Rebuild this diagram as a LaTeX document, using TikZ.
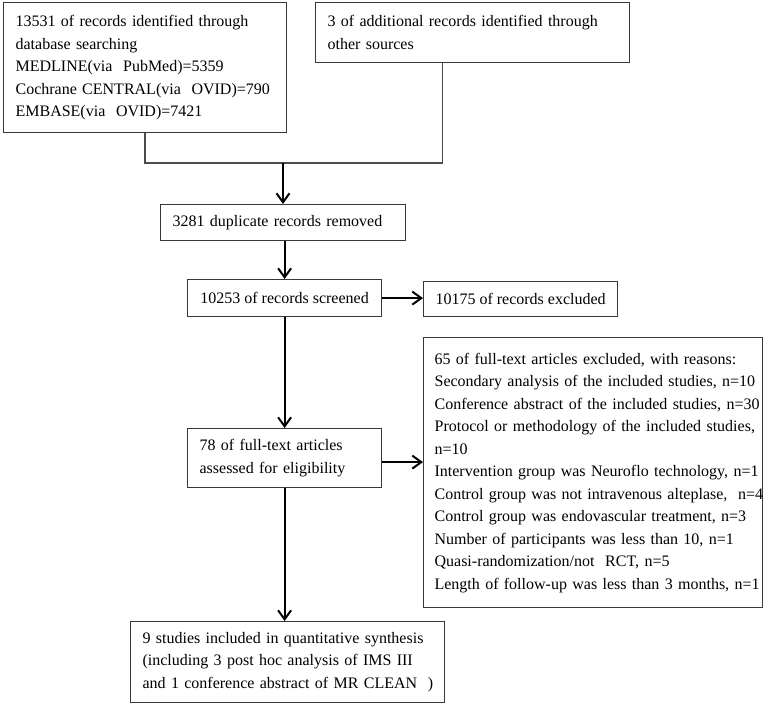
\documentclass[tikz,border=0pt]{standalone}
\usepackage{fontspec}
\setmainfont{Liberation Serif}
\usetikzlibrary{arrows.meta}
\begin{document}
\begin{tikzpicture}[x=1pt,y=-1pt,
  box/.style={draw=black!78, line width=1.2pt, anchor=north west, inner xsep=12pt, inner ysep=0pt, align=left, font=\fontsize{16pt}{22.5pt}\selectfont},
  arr/.style={draw=black, line width=2pt, -{Straight Barb[length=9pt,width=13pt]}},
  link/.style={draw=black!70, line width=1.3pt}]
\fill[white] (0,0) rectangle (765,706);
\useasboundingbox (0,0) rectangle (765,706);
\node[box, text width=259pt, minimum height=130pt] (b1) at (3,2)
  {\mbox{13531 of records identified through}\\database searching\\MEDLINE(via\ \ PubMed)=5359\\Cochrane CENTRAL(via\ \ OVID)=790\\EMBASE(via\ \ OVID)=7421};
\node[box, text width=290pt, minimum height=60pt] (b2) at (315,2)
  {\makebox[290pt][s]{3 of additional records identified through}\\other sources};
\node[box, text width=221pt, minimum height=36pt] (b3) at (160,204)
  {\mbox{3281 duplicate records removed}};
\node[box, minimum width=194pt, minimum height=37pt, inner xsep=0pt] (b4) at (187,279)
  {10253 of records screened};
\node[box, minimum width=194pt, minimum height=35pt, inner xsep=0pt] (b5) at (423,281)
  {10175 of records excluded};
\node[box, text width=317pt, inner xsep=11pt, minimum height=270pt] (b6) at (423,337)
  {\mbox{65 of full-text articles excluded, with reasons:}\\
   \mbox{Secondary analysis of the included studies, n=10}\\
   \mbox{Conference abstract of the included studies, n=30}\\
   \makebox[317pt][s]{Protocol or methodology of the included studies,}\\
   n=10\\
   \mbox{Intervention group was Neuroflo technology, n=1}\\
   \mbox{Control group was not intravenous alteplase,\ \ n=4}\\
   \mbox{Control group was endovascular treatment, n=3}\\
   \mbox{Number of participants was less than 10, n=1}\\
   \mbox{Quasi-randomization/not\ \ RCT, n=5}\\
   \mbox{Length of follow-up was less than 3 months, n=1}};
\node[box, text width=170pt, minimum height=59pt] (b7) at (187,428)
  {\mbox{78 of full-text articles}\\\mbox{assessed for eligibility}};
\node[box, text width=290pt, minimum height=81pt] (b8) at (130,621)
  {\mbox{9 studies included in quantitative synthesis}\\
   \makebox[290pt][s]{(including 3 post hoc analysis of IMS III}\\
   \mbox{and 1 conference abstract of MR CLEAN\ \ )}};
\coordinate (j) at (283,163);
\draw[link] (b1.south) |- (j) -| ([xshift=-30pt]b2.south);
\draw[arr] (j) -- (j |- b3.north);
\draw[arr] (b4.north |- b3.south) -- (b4.north);
\draw[arr] (b4.east) -- (b4.east -| b5.west);
\draw[arr] (b4.south) -- (b7.north);
\draw[arr] ([yshift=-4pt]b7.east) -- ([yshift=-4pt]b7.east -| b6.west);
\draw[arr] (b7.south) -- (b7.south |- b8.north);
\end{tikzpicture}
\end{document}
